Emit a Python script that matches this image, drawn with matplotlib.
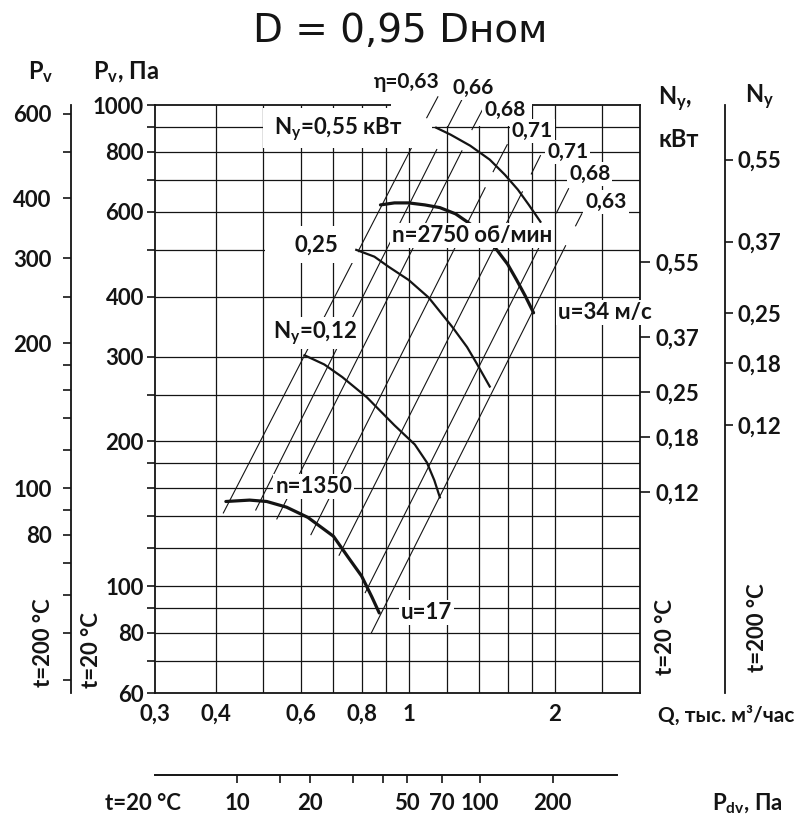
import matplotlib
matplotlib.use("Agg")
import matplotlib.pyplot as plt
from matplotlib.patches import Rectangle
from matplotlib.ticker import NullFormatter, NullLocator

plt.rcParams['font.family'] = ['Lato', 'DejaVu Sans']
plt.rcParams['font.weight'] = 'bold'
plt.rcParams['mathtext.default'] = 'regular'

# --- data (Q in тыс. м3/час, P in Па) ---
# fan pressure curves
q_2750 = [0.875, 0.935, 1.0, 1.08, 1.16, 1.25, 1.34, 1.44, 1.52, 1.60, 1.67, 1.74, 1.81]
p_2750 = [620, 626, 626, 620, 612, 594, 566, 532, 500, 467, 433, 401, 370]
q_1350 = [0.42, 0.47, 0.51, 0.56, 0.62, 0.70, 0.75, 0.80, 0.84, 0.87]
p_1350 = [150, 151, 150, 146, 139, 127, 115, 105, 95, 88]

# curves labelled by motor power
q_ny055 = [1.14, 1.22, 1.34, 1.47, 1.58, 1.68, 1.77, 1.87]
p_ny055 = [897, 868, 823, 770, 716, 667, 620, 572]
q_ny025 = [0.78, 0.85, 0.91, 1.0, 1.1, 1.23, 1.32, 1.38, 1.47]
p_ny025 = [500, 484, 461, 433, 398, 346, 314, 291, 260]
q_ny012 = [0.61, 0.67, 0.73, 0.82, 0.935, 1.03, 1.09, 1.13, 1.16]
p_ny012 = [302, 289, 272, 247, 216, 197, 181, 166, 153]

# efficiency lines (end points) and their short leaders to the labels
eta_labels = ['η=0,63', '0,66', '0,68', '0,71', '0,71', '0,68', '0,63']
eta_q_lo = [0.415, 0.484, 0.535, 0.629, 0.719, 0.814, 0.838]
eta_p_lo = [142, 144, 138, 128, 116, 97, 80]
eta_q_hi = [1.014, 1.143, 1.288, 1.438, 1.716, 1.933, 2.107]
eta_p_hi = [815, 808, 803, 673, 660, 548, 510]
lead_q_lo = [1.09, 1.205, 1.351, 1.494, 1.791, 2.018, 2.21]
lead_p_lo = [941, 901, 889, 727, 719, 597, 561]
lead_q_hi = [1.149, 1.288, 1.431, 1.597, 1.87, 2.137, 2.275]
lead_p_hi = [1040, 1026, 992, 827, 785, 670, 594]
eta_text_q = [0.99, 1.358, 1.582, 1.80, 2.127, 2.363, 2.55]
eta_text_p = [1118, 1086, 978, 884, 800, 720, 629]

# grid and scales
grid_q = [0.4, 0.5, 0.6, 0.7, 0.8, 0.9, 1.0, 1.2, 1.4, 1.6, 1.8, 2.0, 2.5]
grid_p = [70, 80, 90, 100, 120, 140, 160, 180, 200, 250, 300, 400, 500, 600, 700, 800, 900]
q_ticks = [0.3, 0.4, 0.6, 0.8, 1, 2]
q_ticklabels = ['0,3', '0,4', '0,6', '0,8', '1', '2']
p_ticks = [60, 80, 100, 200, 300, 400, 600, 800, 1000]
p_minor = [70, 90, 120, 140, 160, 180, 250, 500, 700, 900]
pv200_ratio = 0.625
pv200_ticks = [80, 100, 200, 300, 400, 600]
pv200_minor = [40, 50, 60, 70, 90, 120, 140, 160, 180, 250, 500]
ny_labels = ['0,55', '0,37', '0,25', '0,18', '0,12']
ny20_pos = [472, 330, 253, 204, 157]
ny200_pos = [770, 520, 370, 291, 216]
pdv_coef = 51
pdv_end = 370
pdv_ticks = [10, 15, 20, 30, 40, 50, 70, 100, 200]
pdv_ticklabels = ['10', '', '20', '', '', '50', '70', '100', '200']

W, H = 798, 814
def fx(x):
    return x / W
def fy(y):
    return 1 - y / H

INK = '#141414'
fig = plt.figure(figsize=(W / 100, H / 100), dpi=100)
ax = fig.add_axes([fx(155), fy(693), (640 - 155) / W, (693 - 105) / H])
ax.set_xscale('log')
ax.set_yscale('log')
ax.set_xlim(0.3, 3.0)
ax.set_ylim(60, 1000)

ax.vlines(grid_q, 60, 1000, color=INK, lw=0.9, zorder=1)
ax.hlines(grid_p, 0.3, 3.0, color=INK, lw=0.9, zorder=1)

# blank areas behind labels
for q0, q1, p0, p1 in [(0.5, 1.116, 815, 985), (0.922, 1.80, 905, 1045), (0.505, 0.785, 470, 560)]:
    ax.add_patch(Rectangle((q0, p0), q1 - q0, p1 - p0, fc='white', ec='none',
                           zorder=2.6, clip_on=False))

for lo_q, lo_p, hi_q, hi_p in zip(eta_q_lo, eta_p_lo, eta_q_hi, eta_p_hi):
    ax.plot([lo_q, hi_q], [lo_p, hi_p], color=INK, lw=0.8, zorder=2)
for lo_q, lo_p, hi_q, hi_p in zip(lead_q_lo, lead_p_lo, lead_q_hi, lead_p_hi):
    ax.plot([lo_q, hi_q], [lo_p, hi_p], color=INK, lw=0.8, zorder=3, clip_on=False)

ax.plot(q_2750, p_2750, color=INK, lw=2.3, zorder=3, solid_capstyle='round')
ax.plot(q_1350, p_1350, color=INK, lw=2.3, zorder=3, solid_capstyle='round')
for q, p in [(q_ny055, p_ny055), (q_ny025, p_ny025), (q_ny012, p_ny012)]:
    ax.plot(q, p, color=INK, lw=1.6, zorder=3)

box = dict(fc='white', ec='none', pad=1.5)
for s, q, p in zip(eta_labels, eta_text_q, eta_text_p):
    ax.text(q, p, s, fontsize=15, ha='center', va='center', color=INK,
            bbox=box, zorder=5, clip_on=False)
labels = [('N$_y$=0,55 кВт', 0.716, 893), ('0,25', 0.644, 512), ('n=2750 об/мин', 1.351, 535),
          ('u=34 м/с', 2.54, 370), ('N$_y$=0,12', 0.641, 336), ('n=1350', 0.638, 161),
          ('u=17', 1.09, 88)]
for s, q, p in labels:
    ax.text(q, p, s, fontsize=16, ha='center', va='center', color=INK,
            bbox=box, zorder=5, clip_on=False)

# main axes ticks
ax.set_xticks(q_ticks, q_ticklabels)
ax.xaxis.set_minor_locator(NullLocator())
ax.set_yticks(p_ticks, [str(v) for v in p_ticks])
ax.set_yticks(p_minor, minor=True)
ax.yaxis.set_minor_formatter(NullFormatter())
ax.tick_params(axis='y', which='both', direction='out', length=6, width=1.2, labelsize=16, pad=2, colors=INK)
ax.tick_params(axis='x', which='both', length=0, labelsize=16, pad=8, colors=INK)
for sp in ax.spines.values():
    sp.set_linewidth(1.3)
    sp.set_color(INK)

# Ny at 20 °C on the right frame
axr = ax.twinx()
axr.set_yscale('log')
axr.set_ylim(60, 1000)
axr.set_yticks(ny20_pos, ny_labels)
axr.yaxis.set_minor_locator(NullLocator())
axr.tick_params(axis='y', direction='out', length=7, width=1.2, labelsize=16, pad=4, colors=INK)
for k in ['left', 'top', 'bottom', 'right']:
    axr.spines[k].set_visible(False)

# Ny at 200 °C
axr2 = ax.twinx()
axr2.set_yscale('log')
axr2.set_ylim(60, 1000)
axr2.spines['right'].set_position(('outward', 61))
axr2.spines['right'].set_linewidth(1.3)
axr2.spines['right'].set_color(INK)
for k in ['left', 'top', 'bottom']:
    axr2.spines[k].set_visible(False)
axr2.set_yticks(ny200_pos, ny_labels)
axr2.yaxis.set_minor_locator(NullLocator())
axr2.tick_params(axis='y', direction='out', length=6, width=1.2, labelsize=16, pad=3, colors=INK)

# Pv at 200 °C on the far left
axl = ax.twinx()
axl.set_yscale('log')
axl.set_ylim(60 * pv200_ratio, 1000 * pv200_ratio)
axl.yaxis.set_ticks_position('left')
axl.spines['left'].set_position(('outward', 60.5))
axl.spines['left'].set_visible(True)
axl.spines['left'].set_linewidth(1.3)
axl.spines['left'].set_color(INK)
for k in ['right', 'top', 'bottom']:
    axl.spines[k].set_visible(False)
axl.set_yticks(pv200_ticks, [str(v) for v in pv200_ticks])
axl.set_yticks(pv200_minor, minor=True)
axl.yaxis.set_minor_formatter(NullFormatter())
axl.tick_params(axis='y', which='both', direction='out', length=6, width=1.2, labelsize=16, pad=8, colors=INK)

# dynamic pressure scale below
axb = ax.twiny()
axb.set_xscale('log')
axb.set_xlim(pdv_coef * 0.3 ** 2, pdv_coef * 3.0 ** 2)
axb.xaxis.set_ticks_position('bottom')
axb.spines['bottom'].set_position(('outward', 59))
axb.spines['bottom'].set_bounds(pdv_coef * 0.3 ** 2, pdv_end)
axb.spines['bottom'].set_linewidth(1.4)
axb.spines['bottom'].set_color(INK)
for k in ['left', 'right', 'top']:
    axb.spines[k].set_visible(False)
axb.set_xticks(pdv_ticks, pdv_ticklabels)
axb.xaxis.set_minor_locator(NullLocator())
axb.tick_params(axis='x', direction='out', length=6, width=1.2, labelsize=16, pad=7, colors=INK)

# headers and side notes
fig.text(fx(400), fy(42), 'D = 0,95 Dном', fontsize=28, fontweight='normal',
         family=['DejaVu Sans'], ha='center', va='baseline', color=INK)
fig.text(fx(28), fy(79), 'P$_v$', fontsize=17, ha='left', va='baseline', color=INK)
fig.text(fx(93), fy(79), 'P$_v$, Па', fontsize=17, ha='left', va='baseline', color=INK)
fig.text(fx(658), fy(105), 'N$_y$,', fontsize=17, ha='left', va='baseline', color=INK)
fig.text(fx(658), fy(147), 'кВт', fontsize=17, ha='left', va='baseline', color=INK)
fig.text(fx(745), fy(103), 'N$_y$', fontsize=17, ha='left', va='baseline', color=INK)
fig.text(fx(794), fy(722), 'Q, тыс. м³/час', fontsize=15, ha='right', va='baseline', color=INK)
fig.text(fx(712), fy(810), 'P$_{dv}$, Па', fontsize=16, ha='left', va='baseline', color=INK)
fig.text(fx(105), fy(810), 't=20 °C', fontsize=16, ha='left', va='baseline', color=INK)
for s, x, y in [('t=200 °C', 44, 643), ('t=20 °C', 91, 650), ('t=20 °C', 665, 637), ('t=200 °C', 757, 628)]:
    fig.text(fx(x), fy(y), s, fontsize=16, rotation=90, ha='center', va='center', color=INK)

fig.savefig('out.png', dpi=100)
